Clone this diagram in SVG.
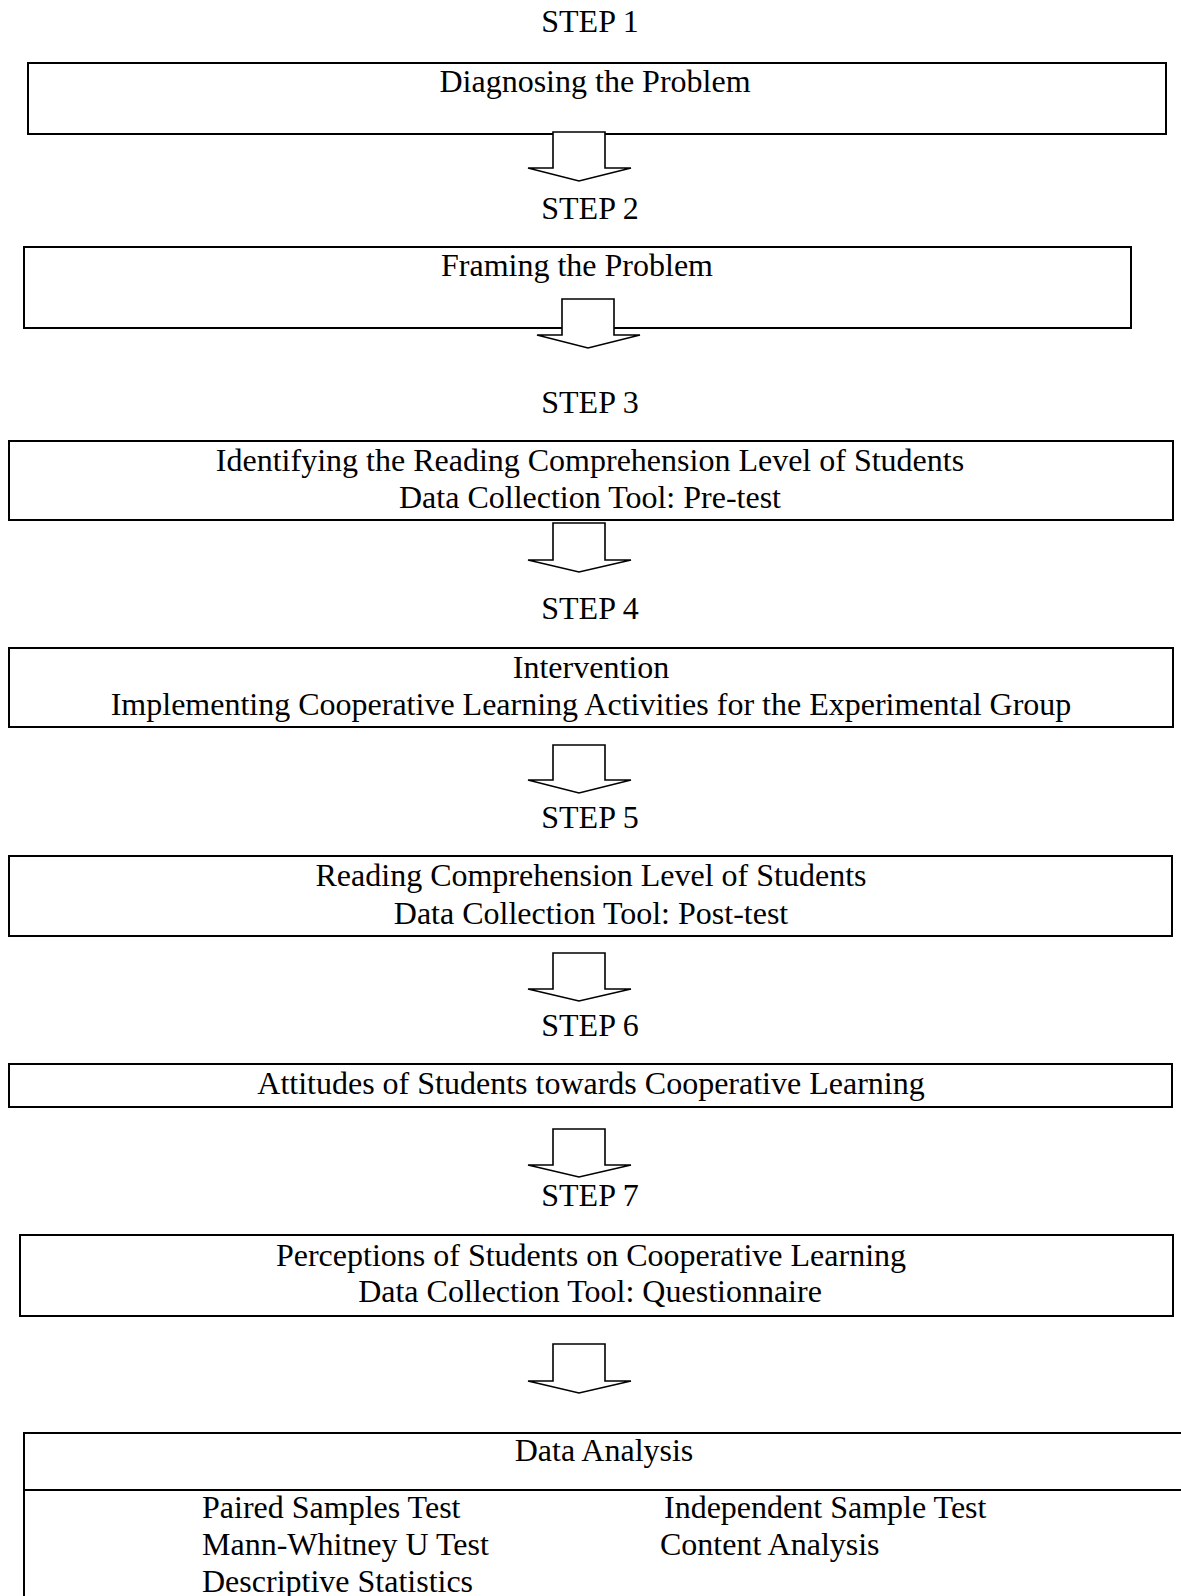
<svg xmlns="http://www.w3.org/2000/svg" width="1181" height="1596" viewBox="0 0 1181 1596">
<style>
text{font-family:"Liberation Serif","Times New Roman",serif;font-size:32px;fill:#000}
.c{text-anchor:middle}
.box{fill:none;stroke:#000;stroke-width:2}
.arr{fill:#fff;stroke:#000;stroke-width:1.6;stroke-linejoin:miter}
</style>
<rect width="1181" height="1596" fill="#fff"/>
<g id="step1">
<text class="c" x="590" y="32">STEP 1</text>
<rect class="box" x="28" y="63" width="1138" height="71"/>
<text class="c" x="595" y="92">Diagnosing the Problem</text>
</g>
<g id="step2">
<text class="c" x="590" y="219">STEP 2</text>
<rect class="box" x="24" y="247" width="1107" height="81"/>
<text class="c" x="577" y="276">Framing the Problem</text>
</g>
<g id="step3">
<text class="c" x="590" y="413">STEP 3</text>
<rect class="box" x="9" y="441" width="1164" height="79"/>
<text class="c" x="590" y="471">Identifying the Reading Comprehension Level of Students</text>
<text class="c" x="590" y="508">Data Collection Tool: Pre-test</text>
</g>
<g id="step4">
<text class="c" x="590" y="619">STEP 4</text>
<rect class="box" x="9" y="648" width="1164" height="79"/>
<text class="c" x="591" y="678">Intervention</text>
<text class="c" x="591" y="715">Implementing Cooperative Learning Activities for the Experimental Group</text>
</g>
<g id="step5">
<text class="c" x="590" y="828">STEP 5</text>
<rect class="box" x="9" y="856" width="1163" height="80"/>
<text class="c" x="591" y="886">Reading Comprehension Level of Students</text>
<text class="c" x="591" y="924">Data Collection Tool: Post-test</text>
</g>
<g id="step6">
<text class="c" x="590" y="1036">STEP 6</text>
<rect class="box" x="9" y="1064" width="1163" height="43"/>
<text class="c" x="591" y="1094">Attitudes of Students towards Cooperative Learning</text>
</g>
<g id="step7">
<text class="c" x="590" y="1206">STEP 7</text>
<rect class="box" x="20" y="1235" width="1153" height="81"/>
<text class="c" x="591" y="1266">Perceptions of Students on Cooperative Learning</text>
<text class="c" x="590" y="1302">Data Collection Tool: Questionnaire</text>
</g>
<g id="analysis">
<path class="box" d="M1182,1433 H24 V1597 M24,1490 H1182"/>
<text class="c" x="604" y="1461">Data Analysis</text>
<text x="202" y="1518">Paired Samples Test</text>
<text x="202" y="1555">Mann-Whitney U Test</text>
<text x="202" y="1592">Descriptive Statistics</text>
<text x="664" y="1518">Independent Sample Test</text>
<text x="660" y="1555">Content Analysis</text>
</g>
<g id="connectors">
<polygon class="arr" points="553,132 605,132 605,168 631,168 579,181 528,168 553,168"/>
<polygon class="arr" points="562,299 614,299 614,335 640,335 588,348 537,335 562,335"/>
<polygon class="arr" points="553,523 605,523 605,560 631,560 579,572 528,560 553,560"/>
<polygon class="arr" points="553,745 605,745 605,780 631,780 579,793 528,780 553,780"/>
<polygon class="arr" points="553,953 605,953 605,989 631,989 579,1001 528,989 553,989"/>
<polygon class="arr" points="553,1129 605,1129 605,1165 631,1165 579,1177 528,1165 553,1165"/>
<polygon class="arr" points="553,1344 605,1344 605,1381 631,1381 579,1393 528,1381 553,1381"/>
</g>
</svg>
